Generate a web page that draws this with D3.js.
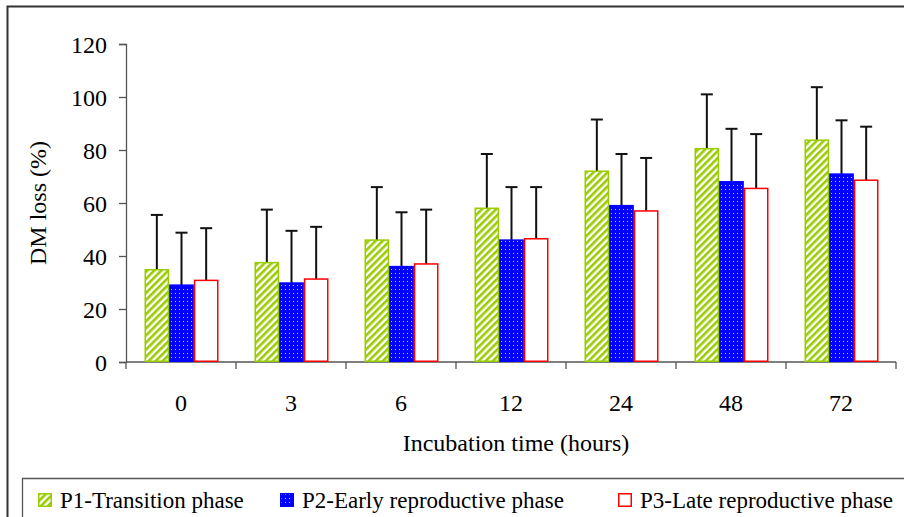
<!DOCTYPE html>
<html>
<head>
<meta charset="utf-8">
<script src="https://cdn.jsdelivr.net/npm/d3@7"></script>
<style>
  body { margin: 0; background: #fff; }
  svg { display: block; }
</style>
</head>
<body>
<script>
// incubation times (hours)
const categories = ["0", "3", "6", "12", "24", "48", "72"];
const seriesNames = ["P1-Transition phase", "P2-Early reproductive phase", "P3-Late reproductive phase"];

// DM loss (%) means
const p1 = [34.8, 37.5, 46, 58, 72, 80.5, 83.7];
const p2 = [29, 29.8, 36, 46, 59, 68, 70.9];
const p3 = [30.8, 31.3, 37, 46.5, 57, 65.5, 68.6];
// upper error bar (SD)
const p1Err = [20.7, 20, 20, 20.5, 19.5, 20.5, 20];
const p2Err = [19.8, 19.7, 20.5, 20, 19.5, 20, 20.3];
const p3Err = [19.7, 19.7, 20.5, 19.5, 20, 20.5, 20.2];

const yTicks = [0, 20, 40, 60, 80, 100, 120];

const W = 904, H = 517;
const FONT = "Liberation Serif";

const svg = d3.select("body").append("svg")
  .attr("width", W).attr("height", H)
  .attr("font-family", FONT);

// patterns
const defs = svg.append("defs");
const hatch = defs.append("pattern")
  .attr("id", "hatch").attr("patternUnits", "userSpaceOnUse")
  .attr("width", 5).attr("height", 5)
  .attr("patternTransform", "rotate(45)");
hatch.append("rect").attr("width", 5).attr("height", 5).attr("fill", "#fff");
hatch.append("rect").attr("width", 2.6).attr("height", 5).attr("fill", "#99cc00");

const dots = defs.append("pattern")
  .attr("id", "dots").attr("patternUnits", "userSpaceOnUse")
  .attr("width", 4).attr("height", 4);
dots.append("rect").attr("width", 4).attr("height", 4).attr("fill", "#0000ff");
dots.append("rect").attr("x", 1).attr("y", 1).attr("width", 1).attr("height", 1).attr("fill", "#c8c8ff");

// outer frame
svg.append("path")
  .attr("d", `M7.5,${H} V6.5 H${W}`)
  .attr("fill", "none").attr("stroke", "#333").attr("stroke-width", 2);

const x0 = d3.scaleBand().domain(categories).range([126, 896]);
const x1 = d3.scaleBand().domain([0, 1, 2]).range([18.5, x0.bandwidth() - 17.5]);
const y = d3.scaleLinear().domain([0, 120]).range([362, 44]);

// y axis
const yAxis = svg.append("g").attr("transform", "translate(126,0)")
  .call(d3.axisLeft(y).tickValues(yTicks).tickSize(7).tickPadding(12));
yAxis.attr("font-family", FONT).attr("font-size", 24);
yAxis.select(".domain").attr("stroke", "#555").attr("stroke-width", 1.3);
yAxis.selectAll(".tick line").attr("stroke", "#555").attr("stroke-width", 1.3);
yAxis.selectAll("text").attr("fill", "#000").attr("dy", "0.34em");

// x axis with ticks on band boundaries
const xAxis = svg.append("g").attr("transform", "translate(0,362)");
xAxis.append("line").attr("x1", 126).attr("x2", 896).attr("stroke", "#555").attr("stroke-width", 1.3);
xAxis.selectAll("line.tk")
  .data(categories.concat(["end"]))
  .join("line").attr("class", "tk")
  .attr("x1", (d, i) => 126 + i * x0.step()).attr("x2", (d, i) => 126 + i * x0.step())
  .attr("y1", 0).attr("y2", 7)
  .attr("stroke", "#555").attr("stroke-width", 1.3);
xAxis.selectAll("text")
  .data(categories).join("text")
  .attr("x", d => x0(d) + x0.bandwidth() / 2)
  .attr("y", 49)
  .attr("text-anchor", "middle")
  .attr("font-size", 24)
  .text(d => d);

// bars
const series = [
  { vals: p1, err: p1Err, fill: "url(#hatch)", stroke: "#99cc00" },
  { vals: p2, err: p2Err, fill: "url(#dots)", stroke: "#0000ff" },
  { vals: p3, err: p3Err, fill: "#fff", stroke: "#ff0000" }
];

const groups = svg.selectAll("g.cat")
  .data(categories).join("g").attr("class", "cat")
  .attr("transform", d => `translate(${x0(d)},0)`);

series.forEach((s, si) => {
  const cx = x1(si) + x1.bandwidth() / 2;
  // error bars (upper only)
  groups.append("line")
    .attr("x1", cx).attr("x2", cx)
    .attr("y1", (d, i) => y(s.vals[i])).attr("y2", (d, i) => y(s.vals[i] + s.err[i]))
    .attr("stroke", "#111").attr("stroke-width", 2);
  groups.append("line")
    .attr("x1", cx - 6).attr("x2", cx + 6)
    .attr("y1", (d, i) => y(s.vals[i] + s.err[i])).attr("y2", (d, i) => y(s.vals[i] + s.err[i]))
    .attr("stroke", "#111").attr("stroke-width", 2);
  groups.append("rect")
    .attr("x", x1(si) + 0.75)
    .attr("width", x1.bandwidth() - 1.5)
    .attr("y", (d, i) => y(s.vals[i]))
    .attr("height", (d, i) => y(0) - y(s.vals[i]) - 0.75)
    .attr("fill", s.fill)
    .attr("stroke", s.stroke).attr("stroke-width", 1.5);
});

// axis titles
svg.append("text")
  .attr("transform", "translate(46,203) rotate(-90)")
  .attr("text-anchor", "middle").attr("font-size", 24)
  .text("DM  loss (%)");
svg.append("text")
  .attr("x", 516).attr("y", 451)
  .attr("text-anchor", "middle").attr("font-size", 24)
  .text("Incubation time (hours)");

// legend box
svg.append("path")
  .attr("d", `M22.5,${H} V478.5 H${W}`)
  .attr("fill", "none").attr("stroke", "#555").attr("stroke-width", 1.3);

const legendX = [38, 280, 618];
const legend = svg.selectAll("g.leg")
  .data(seriesNames).join("g").attr("class", "leg")
  .attr("transform", (d, i) => `translate(${legendX[i]},493)`);
legend.append("rect")
  .attr("x", 0.75).attr("y", 0.75).attr("width", 12.5).attr("height", 12.5)
  .attr("fill", (d, i) => series[i].fill)
  .attr("stroke", (d, i) => series[i].stroke).attr("stroke-width", 1.5);
legend.append("text")
  .attr("x", 22).attr("y", 15)
  .attr("font-size", 23)
  .text(d => d);
</script>
</body>
</html>
